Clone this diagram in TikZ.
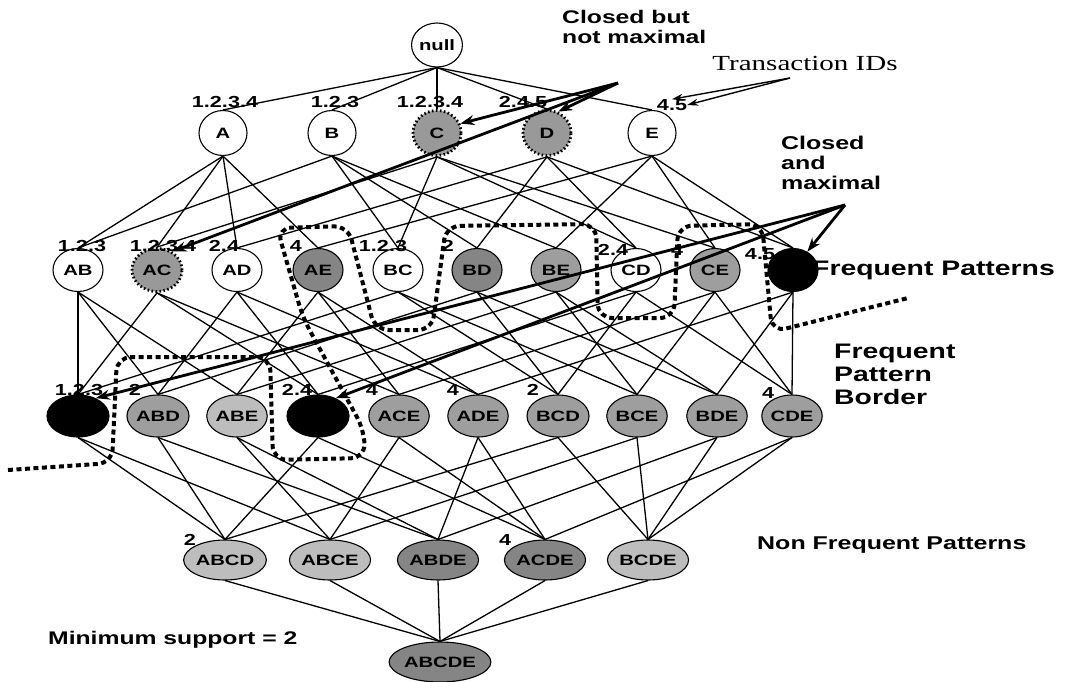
\documentclass[tikz,border=0pt]{standalone}
\usepackage{fontspec}
\newfontfamily\labfont{Liberation Sans}[FakeStretch=1.35]
\newfontfamily\serfont{Liberation Serif}[FakeStretch=1.35]
\usetikzlibrary{shapes.geometric,arrows.meta,backgrounds}

\definecolor{glight}{gray}{0.74}
\definecolor{gmid}{gray}{0.62}
\definecolor{gdark}{gray}{0.52}
\definecolor{gclose}{gray}{0.60}

\newcommand\nodefont{\labfont\bfseries\fontsize{15}{15}\selectfont}
\newcommand\numfont{\labfont\bfseries\fontsize{16}{16}\selectfont}
\newcommand\notefont{\labfont\bfseries\fontsize{18.3}{19.5}\selectfont}
\newcommand\bigfont{\labfont\bfseries\fontsize{21}{23}\selectfont}

\tikzset{
  lat/.style={ellipse, draw, line width=1.1pt, inner sep=0pt, font=\nodefont, text=black},
  wh/.style={lat, fill=white},
  gl/.style={lat, fill=glight},
  gm/.style={lat, fill=gmid},
  gd/.style={lat, fill=gdark},
  cl/.style={lat, fill=gclose, line width=2.8pt, dash pattern=on 1.6pt off 2.4pt},
  bk/.style={lat, fill=black},
  lv0/.style={minimum width=46pt, minimum height=44pt},
  lv1/.style={minimum width=48pt, minimum height=45pt},
  lv2/.style={minimum width=50pt, minimum height=43pt},
  lv3/.style={minimum width=50pt, minimum height=42pt},
  lv4/.style={minimum width=68pt, minimum height=40pt},
  lv5/.style={minimum width=80pt, minimum height=40pt},
  num/.style={font=\numfont, inner sep=0pt},
  note/.style={font=\notefont, align=left, inner sep=0pt, anchor=west},
  edge/.style={line width=1.3pt},
  bigarrow/.style={line width=2.8pt, -{Stealth[length=14pt,width=10pt]}},
  thinarrow/.style={line width=1.4pt, -{Stealth[length=11pt,width=7pt]}},
  border/.style={line width=4pt, dash pattern=on 5pt off 3.5pt, rounded corners=14pt},
}

\begin{document}
\begin{tikzpicture}[x=1pt, y=-1pt]
\useasboundingbox (0,0) rectangle (1068,682);

% itemset lattice
\node[wh,lv0] (null) at (437,45) {null};

\node[wh,lv1] (A) at (223,133) {A};
\node[wh,lv1] (B) at (332,133) {B};
\node[cl,lv1] (C) at (437,133) {C};
\node[cl,lv1] (D) at (547,133) {D};
\node[wh,lv1] (E) at (652,133) {E};

\node[wh,lv2] (AB) at (78,270) {AB};
\node[cl,lv2] (AC) at (157,270) {AC};
\node[wh,lv2] (AD) at (237,270) {AD};
\node[gd,lv2] (AE) at (318,270) {AE};
\node[wh,lv2] (BC) at (398,270) {BC};
\node[gd,lv2] (BD) at (477,270) {BD};
\node[gm,lv2] (BE) at (556,270) {BE};
\node[wh,lv2] (CD) at (636,270) {CD};
\node[gm,lv2] (CE) at (715,270) {CE};
\node[bk,lv2] (DE) at (793,270) {DE};

\node[bk,lv3] (ABC) at (78,416) {ABC};
\node[gm,lv3] (ABD) at (158,416) {ABD};
\node[gl,lv3] (ABE) at (237,416) {ABE};
\node[bk,lv3] (ACD) at (318,416) {ACD};
\node[gm,lv3] (ACE) at (399,416) {ACE};
\node[gm,lv3] (ADE) at (478,416) {ADE};
\node[gm,lv3] (BCD) at (558,416) {BCD};
\node[gm,lv3] (BCE) at (637,416) {BCE};
\node[gm,lv3] (BDE) at (717,416) {BDE};
\node[gm,lv3] (CDE) at (792,416) {CDE};

\node[gl,lv4] (ABCD) at (225,560) {ABCD};
\node[gl,lv4] (ABCE) at (330,560) {ABCE};
\node[gd,lv4] (ABDE) at (438,560) {ABDE};
\node[gd,lv4] (ACDE) at (545,560) {ACDE};
\node[gl,lv4] (BCDE) at (648,560) {BCDE};

\node[gd,lv5] (ABCDE) at (440,662) {ABCDE};

% subset links, behind the nodes
\begin{pgfonlayer}{background}
\foreach \p/\cs in {null/{A,B,C,D,E},
    A/{AB,AC,AD,AE}, B/{AB,BC,BD,BE}, C/{AC,BC,CD,CE}, D/{AD,BD,CD,DE}, E/{AE,BE,CE,DE},
    AB/{ABC,ABD,ABE}, AC/{ABC,ACD,ACE}, AD/{ABD,ACD,ADE}, AE/{ABE,ACE,ADE},
    BC/{ABC,BCD,BCE}, BD/{ABD,BCD,BDE}, BE/{ABE,BCE,BDE}, CD/{ACD,BCD,CDE},
    CE/{ACE,BCE,CDE}, DE/{ADE,BDE,CDE},
    ABC/{ABCD,ABCE}, ABD/{ABCD,ABDE}, ABE/{ABCE,ABDE}, ACD/{ABCD,ACDE},
    ACE/{ABCE,ACDE}, ADE/{ABDE,ACDE}, BCD/{ABCD,BCDE}, BCE/{ABCE,BCDE},
    BDE/{ABDE,BCDE}, CDE/{ACDE,BCDE},
    ABCD/{ABCDE}, ABCE/{ABCDE}, ABDE/{ABCDE}, ACDE/{ABCDE}, BCDE/{ABCDE}}
  {\foreach \c in \cs {\draw[edge] (\p.south) -- (\c.north);}}
\end{pgfonlayer}

% transaction id lists
\node[num] (tA) at (225,102) {1.2.3.4};
\node[num] (tB) at (335,102) {1.2.3};
\node[num] (tC) at (430,102) {1.2.3.4};
\node[num] (tD) at (523,102) {2.4.5};
\node[num] (tE) at (672,105) {4.5};

\node[num] (tAB) at (82,246) {1.2.3};
\node[num] (tAC) at (163,246) {1.2.3.4};
\node[num] (tAD) at (224,246) {2.4};
\node[num] (tAE) at (296,246) {4};
\node[num] (tBC) at (383,246) {1.2.3};
\node[num] (tBD) at (448,246) {2};
\node[num] (tCD) at (613,250) {2.4};
\node[num] (tCE) at (677,250) {4};
\node[num] (tDE) at (760,254) {4.5};

\node[num] (tABC) at (79,390) {1.2.3};
\node[num] (tABD) at (135,390) {2};
\node[num] (tACD) at (297,390) {2.4};
\node[num] (tACE) at (372,390) {4};
\node[num] (tADE) at (453,390) {4};
\node[num] (tBCD) at (533,390) {2};
\node[num] (tCDE) at (768,393) {4};

\node[num] (tABCD) at (190,540) {2};
\node[num] (tACDE) at (505,540) {4};

% frequent pattern border
\draw[border] (8,470) -- (112,463) -- (117,357) -- (270,357) -- (273,460)
  -- (365,458) -- (364,430) -- (303,318) -- (277,228) -- (348,226) -- (375,330)
  -- (432,330) -- (446,226) -- (596,224) -- (598,318) -- (674,318)
  -- (678,226) -- (762,224) -- (772,332) -- (908,298);

% annotations
\node[note] (cbnm) at (562,27) {Closed but\\not maximal};
\node[note, font=\labfont\bfseries\fontsize{18.5}{20}\selectfont] (cam) at (781,163) {Closed\\and\\maximal};
\node[font=\serfont\fontsize{21.5}{22}\selectfont, inner sep=0pt] (tid) at (805,63) {Transaction IDs};
\node[note, font=\bigfont] (fp) at (812,270) {Frequent Patterns};
\node[note, font=\bigfont] (fpb) at (834,374) {Frequent\\Pattern\\Border};
\node[note, font=\labfont\bfseries\fontsize{18.5}{19}\selectfont] (nfp) at (757,545) {Non Frequent Patterns};
\node[note] (minsup) at (48,640) {Minimum support = 2};

% pointers from the annotations
\coordinate (cbnmO) at (618,83);
\coordinate (camO) at (845,205);
\coordinate (tidO) at (790,78);
\draw[bigarrow] (cbnmO) -- (C.22);
\draw[bigarrow] (cbnmO) -- (D.62);
\draw[bigarrow] (cbnmO) -- (AC.50);
\draw[bigarrow] (camO) -- (DE.52);
\draw[bigarrow] (camO) -- (ABC.45);
\draw[bigarrow] (camO) -- (ACD.45);
\draw[thinarrow] (tidO) -- (tE.north);
\draw[thinarrow] (tidO) -- (tE.east);
\end{tikzpicture}
\end{document}
